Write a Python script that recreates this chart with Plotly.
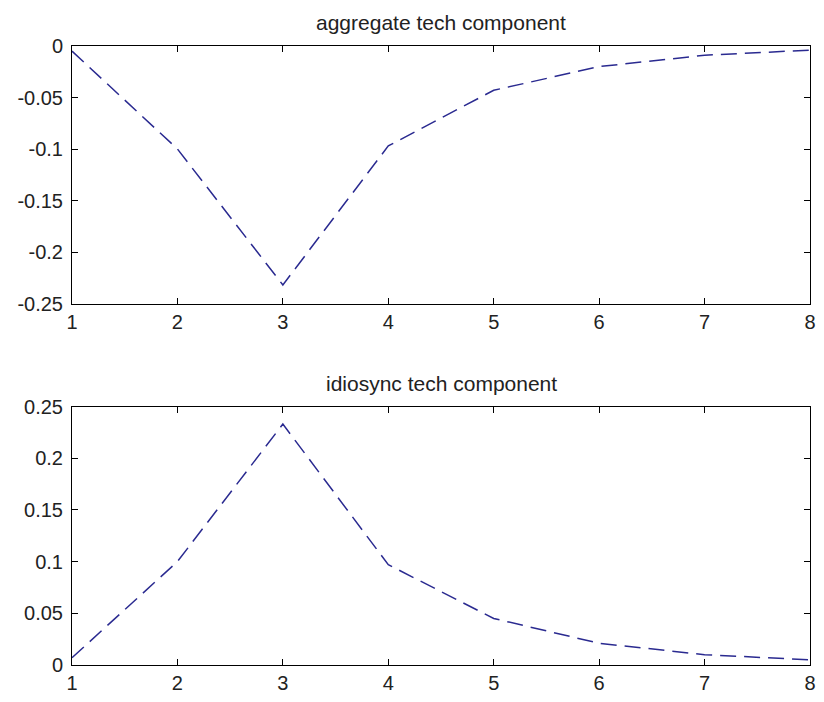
import plotly.graph_objects as go

# Impulse-response horizon (periods)
periods = [1, 2, 3, 4, 5, 6, 7, 8]

# Response of the aggregate technology component
aggregate_tech = [-0.005, -0.100, -0.232, -0.097, -0.043, -0.020, -0.009, -0.004]

# Response of the idiosyncratic technology component
idiosync_tech = [0.007, 0.100, 0.233, 0.097, 0.045, 0.021, 0.010, 0.005]

# Tick marks
x_ticks = [1, 2, 3, 4, 5, 6, 7, 8]
top_y_ticks = [0, -0.05, -0.1, -0.15, -0.2, -0.25]
top_y_labels = ["0", "-0.05", "-0.1", "-0.15", "-0.2", "-0.25"]
bot_y_ticks = [0, 0.05, 0.1, 0.15, 0.2, 0.25]
bot_y_labels = ["0", "0.05", "0.1", "0.15", "0.2", "0.25"]

titles = ["aggregate tech component", "idiosync tech component"]

line_color = "#2a2a90"
line_style = dict(color=line_color, width=1.5, dash="16px,8px")
font_family = "Liberation Sans, Arial, sans-serif"

fig = go.Figure()
fig.add_trace(go.Scatter(x=periods, y=aggregate_tech, mode="lines", line=line_style,
                         xaxis="x", yaxis="y", showlegend=False))
fig.add_trace(go.Scatter(x=periods, y=idiosync_tech, mode="lines", line=line_style,
                         xaxis="x2", yaxis="y2", showlegend=False))

axis_common = dict(showline=True, linecolor="black", linewidth=1, mirror="ticks",
                   ticks="inside", ticklen=6, tickcolor="black", tickwidth=1,
                   showgrid=False, zeroline=False,
                   tickfont=dict(family=font_family, size=20, color="#222222"))

fig.update_layout(
    width=824, height=702,
    margin=dict(l=72, r=8, t=46, b=31),
    paper_bgcolor="white", plot_bgcolor="white",
    xaxis=dict(domain=[0, 1], anchor="y", range=[1, 8], tickvals=x_ticks, **axis_common),
    yaxis=dict(domain=[0.584, 1], anchor="x", range=[-0.25, 0],
               tickvals=top_y_ticks, ticktext=top_y_labels, ticklabelstandoff=4,
               **axis_common),
    xaxis2=dict(domain=[0, 1], anchor="y2", range=[1, 8], tickvals=x_ticks, **axis_common),
    yaxis2=dict(domain=[0, 0.4176], anchor="x2", range=[0, 0.25],
                tickvals=bot_y_ticks, ticktext=bot_y_labels, ticklabelstandoff=4,
                **axis_common),
    annotations=[
        dict(text=titles[0], x=0.5, y=1, xref="paper", yref="paper",
             xanchor="center", yanchor="middle", yshift=24, showarrow=False,
             font=dict(family=font_family, size=21, color="#222222")),
        dict(text=titles[1], x=0.5, y=0.4176, xref="paper", yref="paper",
             xanchor="center", yanchor="middle", yshift=23, showarrow=False,
             font=dict(family=font_family, size=21, color="#222222")),
    ],
)

fig.write_html("out.html")
